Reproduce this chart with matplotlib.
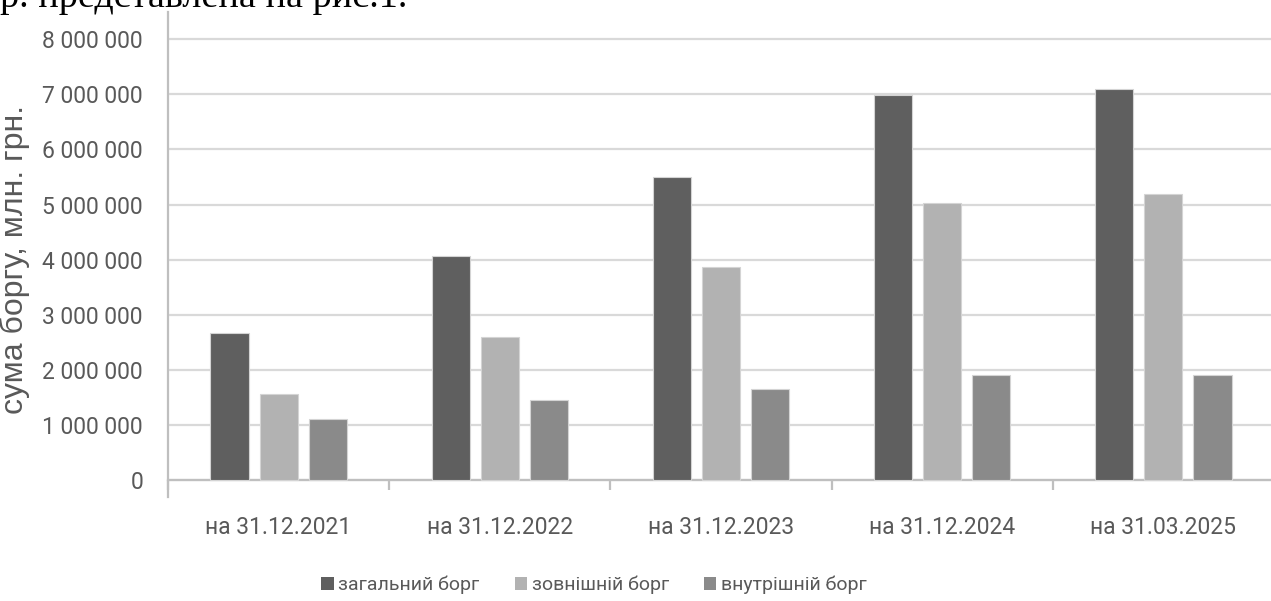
import matplotlib
matplotlib.use("Agg")
import matplotlib.pyplot as plt
from matplotlib.patches import Patch
from matplotlib.ticker import FuncFormatter
import numpy as np

# державний борг, млн. грн.
dates = ["на 31.12.2021", "на 31.12.2022", "на 31.12.2023", "на 31.12.2024", "на 31.03.2025"]
total_debt = [2670000, 4070000, 5500000, 6980000, 7100000]
external_debt = [1560000, 2590000, 3860000, 5020000, 5200000]
internal_debt = [1100000, 1450000, 1650000, 1905000, 1905000]
series_names = ["загальний борг", "зовнішній борг", "внутрішній борг"]
colors = ["#5f5f5f", "#b2b2b2", "#8a8a8a"]

NARROW = ["Roboto", "DejaVu Sans"]
GREY_TXT = "#595959"
GRID = "#d9d9d9"
AXIS = "#bfbfbf"

fig = plt.figure(figsize=(12.71, 6.01), dpi=100)
ax = fig.add_axes([168 / 1271, 0.173, 1106 / 1271, 0.807])

x = np.arange(len(dates))
w = 0.172
step = 0.222
for i, (vals, c) in enumerate(zip([total_debt, external_debt, internal_debt], colors)):
    ax.bar(x + (i - 1) * step, vals, w, color=c, edgecolor="#d4d4d4", linewidth=0.8, zorder=3)

ax.set_xlim(-0.5, 4.5)
ax.set_ylim(-309000, 8494000)
ax.set_yticks(np.arange(0, 8000001, 1000000))
ax.yaxis.set_major_formatter(FuncFormatter(lambda v, _: f"{int(v):,}".replace(",", " ")))
ax.yaxis.grid(True, color=GRID, linewidth=1.6, zorder=0)
ax.tick_params(axis="y", length=0, pad=18, labelsize=16.5, labelcolor=GREY_TXT)
for lbl in ax.get_yticklabels():
    lbl.set_family(NARROW)

# category axis at zero with boundary ticks
ax.spines["bottom"].set_position(("data", 0))
ax.spines["bottom"].set_color(AXIS)
ax.spines["bottom"].set_linewidth(1.6)
ax.spines["left"].set_color(AXIS)
ax.spines["left"].set_linewidth(1.6)
ax.spines["top"].set_visible(False)
ax.spines["right"].set_visible(False)
ax.set_xticks(x)
ax.set_xticklabels(dates, family=NARROW)
ax.set_xticks(np.arange(len(dates) + 1) - 0.5, minor=True)
ax.tick_params(axis="x", which="major", length=0, pad=26, labelsize=16.5, labelcolor=GREY_TXT)
ax.tick_params(axis="x", which="minor", length=7, width=1.6, color=AXIS)

ax.set_ylabel("сума боргу, млн. грн.", family="Liberation Sans", fontsize=23, color=GREY_TXT)
ax.yaxis.set_label_coords(-0.1248, 0.489)

handles = [Patch(facecolor=c, edgecolor="none") for c in colors]
fig.legend(handles, series_names, loc="center", bbox_to_anchor=(594 / 1271, 1 - 585 / 601),
           ncol=3, frameon=False, handlelength=0.62, handleheight=0.62, handletextpad=0.25,
           columnspacing=1.8, prop={"family": NARROW, "size": 14}, labelcolor=GREY_TXT)

# tail of the preceding text line
fig.text(0.0, 1 - 7 / 601, "р. представлена на рис.1.", family="Liberation Serif",
         fontsize=27.5, color="black", ha="left", va="baseline")

fig.savefig("out.png", dpi=100)
